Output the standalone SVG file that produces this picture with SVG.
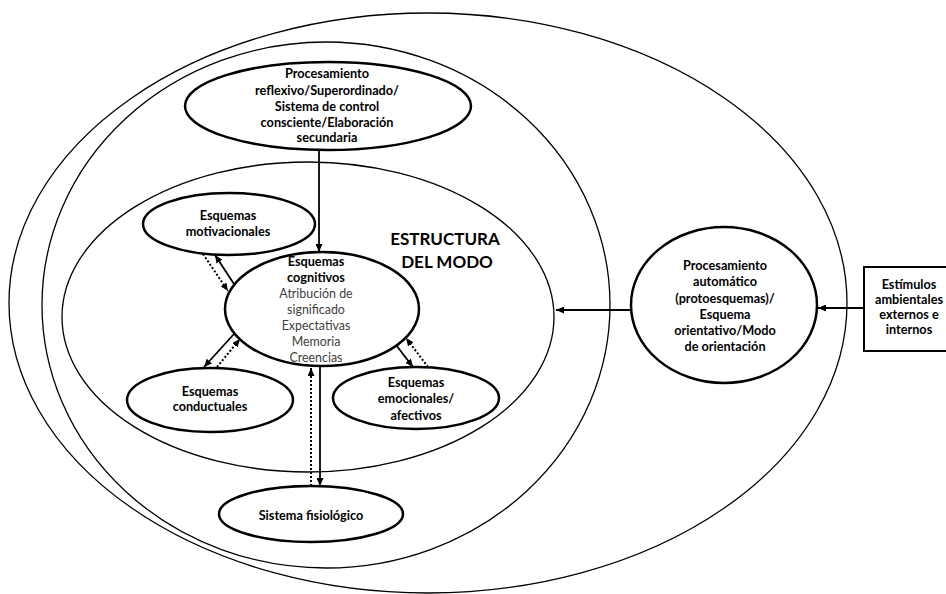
<svg xmlns="http://www.w3.org/2000/svg" width="946" height="594" viewBox="0 0 946 594">
<defs>
<marker id="ah" markerWidth="8" markerHeight="7" refX="8" refY="3.5" orient="auto" markerUnits="userSpaceOnUse">
<path d="M0,0 L8,3.5 L0,7 z" fill="#000"/>
</marker>
</defs>
<style>
.big{fill:none;stroke:#000;stroke-width:1.3}
.node{fill:#fff;stroke:#000;stroke-width:2.5}
.t{font-family:Lato,"Liberation Sans",sans-serif;font-weight:bold;font-size:12.7px;text-anchor:middle;fill:#000}
.g{font-weight:normal;fill:#404040;font-size:12.4px}
.h{font-size:17px}
.c{stroke:#000;stroke-width:1.8;fill:none}
.d{stroke:#000;stroke-width:2;fill:none;stroke-dasharray:2 2}
</style>
<rect width="946" height="594" fill="#fff"/>
<g id="outer"><ellipse class="big" cx="428" cy="303" rx="419" ry="290"/></g>
<g id="middle"><ellipse class="big" cx="326" cy="305" rx="284" ry="263"/></g>
<g id="estructura">
<ellipse class="big" cx="308" cy="317" rx="246" ry="155"/>
<text class="t h" x="445" y="245">ESTRUCTURA</text>
<text class="t h" x="447" y="268">DEL MODO</text>
</g>
<g id="reflexivo">
<ellipse class="node" cx="328" cy="106" rx="143" ry="44"/>
<text class="t" x="327" y="78">Procesamiento</text>
<text class="t" x="327" y="95">reflexivo/Superordinado/</text>
<text class="t" x="327" y="111">Sistema de control</text>
<text class="t" x="327" y="127">consciente/Elaboración</text>
<text class="t" x="327" y="142">secundaria</text>
</g>
<g id="motivacionales">
<ellipse class="node" cx="229" cy="224" rx="86" ry="31"/>
<text class="t" x="228" y="220">Esquemas</text>
<text class="t" x="228" y="236">motivacionales</text>
</g>
<g id="cognitivos">
<ellipse class="node" cx="322" cy="309" rx="97" ry="57"/>
<text class="t" x="316" y="266">Esquemas</text>
<text class="t" x="316" y="282">cognitivos</text>
<text class="t g" x="316" y="298">Atribución de</text>
<text class="t g" x="316" y="314">significado</text>
<text class="t g" x="316" y="330">Expectativas</text>
<text class="t g" x="316" y="346">Memoria</text>
<text class="t g" x="316" y="362">Creencias</text>
</g>
<g id="conductuales">
<ellipse class="node" cx="210" cy="400" rx="83" ry="32"/>
<text class="t" x="210" y="396">Esquemas</text>
<text class="t" x="210" y="411">conductuales</text>
</g>
<g id="emocionales">
<ellipse class="node" cx="416" cy="398" rx="83" ry="31"/>
<text class="t" x="416" y="387">Esquemas</text>
<text class="t" x="416" y="403">emocionales/</text>
<text class="t" x="416" y="420">afectivos</text>
</g>
<g id="fisiologico">
<ellipse class="node" cx="311" cy="514" rx="92" ry="28"/>
<text class="t" x="311" y="520">Sistema fisiológico</text>
</g>
<g id="automatico">
<ellipse class="node" cx="724" cy="305" rx="93" ry="78"/>
<text class="t" x="725" y="270">Procesamiento</text>
<text class="t" x="725" y="286">automático</text>
<text class="t" x="725" y="303">(protoesquemas)/</text>
<text class="t" x="725" y="319">Esquema</text>
<text class="t" x="725" y="335">orientativo/Modo</text>
<text class="t" x="725" y="351">de orientación</text>
</g>
<g id="estimulos">
<rect x="864" y="267" width="90" height="84" fill="#fff" stroke="#000" stroke-width="2"/>
<text class="t" x="909" y="289">Estímulos</text>
<text class="t" x="909" y="304">ambientales</text>
<text class="t" x="909" y="319">externos e</text>
<text class="t" x="909" y="334">internos</text>
</g>
<g id="connectors">
<line class="c" x1="319" y1="150" x2="319" y2="252" marker-end="url(#ah)"/>
<line class="c" x1="864" y1="308" x2="818" y2="308" marker-end="url(#ah)"/>
<line class="c" x1="631" y1="310" x2="556" y2="310" marker-end="url(#ah)"/>
<line class="c" x1="234" y1="284" x2="215" y2="255" marker-end="url(#ah)"/>
<line class="d" x1="203" y1="254" x2="228" y2="291" marker-end="url(#ah)"/>
<line class="c" x1="234" y1="334" x2="204" y2="367" marker-end="url(#ah)"/>
<line class="d" x1="217" y1="367" x2="240" y2="339" marker-end="url(#ah)"/>
<line class="c" x1="396" y1="345" x2="413" y2="367" marker-end="url(#ah)"/>
<line class="d" x1="428" y1="367" x2="406" y2="338" marker-end="url(#ah)"/>
<line class="c" x1="320" y1="366" x2="320" y2="486" marker-end="url(#ah)"/>
<line class="d" x1="311" y1="486" x2="311" y2="368" marker-end="url(#ah)"/>
</g>
</svg>
